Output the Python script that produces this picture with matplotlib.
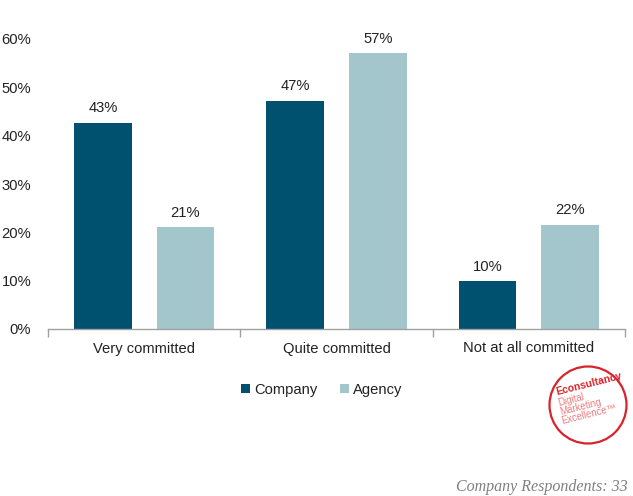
import matplotlib.pyplot as plt
import matplotlib.patches as patches
import numpy as np

plt.rcParams['font.family'] = ['Liberation Sans', 'DejaVu Sans']

categories = ['Very committed', 'Quite committed', 'Not at all committed']
company = [42.7, 47.2, 9.9]
agency = [21.1, 57.1, 21.6]
series_names = ['Company', 'Agency']

DARK = '#005070'
LIGHT = '#A2C6CC'
GRID_GRAY = '#A0A0A0'
TEXT = '#222222'
FS = 10.6

fig = plt.figure(figsize=(6.33, 4.96), dpi=100)
ax = fig.add_axes([48/633, 1 - 329/496, (625 - 48)/633, (329 - 39)/496])

x = np.arange(len(categories))
w = 0.30
off = 0.215
b1 = ax.bar(x - off, company, w, color=DARK, label=series_names[0])
b2 = ax.bar(x + off, agency, w, color=LIGHT, label=series_names[1])

for bars in (b1, b2):
    for r in bars:
        ax.text(r.get_x() + r.get_width()/2, r.get_height() + 3.0,
                f'{r.get_height():.0f}%', ha='center', va='center',
                fontsize=FS, color=TEXT)

ax.set_xlim(-0.5, 2.5)
ax.set_ylim(0, 60)
ax.set_yticks(np.arange(0, 61, 10))
ax.set_yticklabels([f'{v}%' for v in range(0, 61, 10)], fontsize=FS, color=TEXT)
ax.tick_params(axis='y', length=0, pad=12)

ax.set_xticks(x)
ax.set_xticklabels(categories, fontsize=FS, color=TEXT)
ax.tick_params(axis='x', length=0, pad=9)
ax.set_xticks([-0.5, 0.5, 1.5, 2.5], minor=True)
ax.tick_params(axis='x', which='minor', length=6, color=GRID_GRAY, width=1)

for s in ('top', 'right', 'left'):
    ax.spines[s].set_visible(False)
ax.spines['bottom'].set_color(GRID_GRAY)
ax.spines['bottom'].set_linewidth(1)

fig.legend(handles=[b1, b2], labels=series_names, loc='center',
           bbox_to_anchor=(322/633, 1 - 390/496), ncol=2, frameon=False,
           fontsize=FS, handlelength=0.6, handleheight=0.6,
           handletextpad=0.3, columnspacing=1.5, labelcolor=TEXT)

# logo
la = fig.add_axes([0, 0, 1, 1], facecolor='none')
la.set_xlim(0, 633)
la.set_ylim(496, 0)
la.axis('off')
la.add_patch(patches.Circle((588, 405), 38.5, fill=False, edgecolor='#D8232A', linewidth=1.6))
la.text(589, 384, 'Econsultancy', rotation=14, ha='center', va='center',
        fontsize=7.5, fontweight='bold', color='#D8232A')
for i, word in enumerate(['Digital', 'Marketing', 'Excellence™']):
    la.text(557 + i*1.5, 400 + i*7, word, rotation=14, ha='left', va='center',
            fontsize=7, color='#EE7C80')

fig.text(456/633, 1 - 487/496, 'Company Respondents: 33', fontsize=11.5,
         family=['Liberation Serif', 'DejaVu Serif'], style='italic',
         color='#808080', ha='left', va='center')

fig.savefig('out.png', dpi=100)
